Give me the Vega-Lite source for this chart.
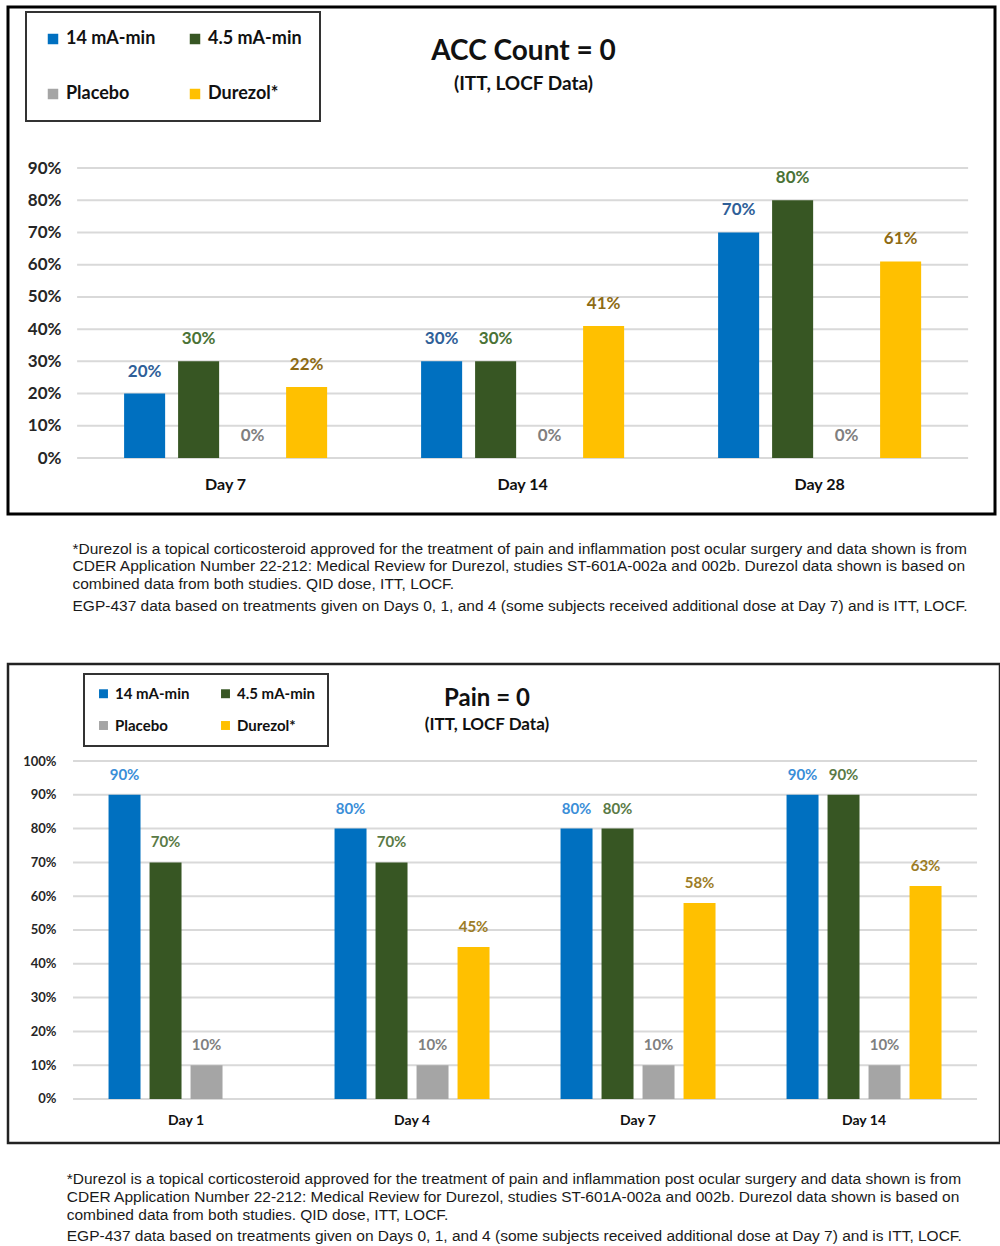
{
  "$schema": "https://vega.github.io/schema/vega-lite/v6.json",
  "background": "white",
  "padding": {"left": 6, "top": 5, "right": 0, "bottom": 0},
  "config": {"font": "Lato", "legend": {"strokeWidth": 2}},
  "spacing": 47,
  "resolve": {"scale": {"xOffset": "independent", "color": "independent", "x": "independent", "y": "independent"}, "legend": {"color": "independent"}},
  "vconcat": [
    {
      "title": {
        "text": [
          "*Durezol is a topical corticosteroid approved for the treatment of pain and inflammation post ocular surgery and data shown is from",
          "CDER Application Number 22-212: Medical Review for Durezol, studies ST-601A-002a and 002b.  Durezol data shown is based on",
          "combined data from both studies. QID dose, ITT, LOCF."
        ],
        "subtitle": "EGP-437 data based on treatments given on Days 0, 1, and 4 (some subjects received additional dose at Day 7) and is ITT, LOCF.",
        "orient": "bottom", "anchor": "start", "dx": 66, "offset": 26,
        "font": "Liberation Sans", "fontSize": 15.5, "fontWeight": "normal", "color": "#1a1a1a", "lineHeight": 17.5,
        "subtitleFont": "Liberation Sans", "subtitleFontSize": 15.5, "subtitleColor": "#1a1a1a", "subtitlePadding": 7
      },
      "resolve": {"scale": {"xOffset": "independent", "color": "independent"}, "legend": {"color": "independent"}},
      "vconcat": [
        {
          "width": 987, "height": 507,
          "view": {"stroke": "#000", "strokeWidth": 3},
          "title": {
            "text": "ACC Count = 0", "subtitle": "(ITT, LOCF Data)",
            "frame": "group", "anchor": "middle", "dx": 22, "offset": -87,
            "font": "Lato", "fontSize": 28, "fontWeight": "bold", "color": "#111",
            "subtitleFont": "Lato", "subtitleFontSize": 19, "subtitleFontWeight": "bold", "subtitleColor": "#111", "subtitlePadding": 9
          },
          "resolve": {"scale": {"color": "independent"}},
          "layer": [
            {
              "data": {"values": [{"v": 0}, {"v": 0.1}, {"v": 0.2}, {"v": 0.3}, {"v": 0.4}, {"v": 0.5}, {"v": 0.6}, {"v": 0.7}, {"v": 0.8}, {"v": 0.9}]},
              "mark": {"type": "rule", "color": "#D9D9D9", "strokeWidth": 2},
              "encoding": {
                "y": {"field": "v", "type": "quantitative", "scale": {"domain": [-0.1738, 1.3998], "nice": false, "zero": false},
                  "axis": {"values": [0, 0.1, 0.2, 0.3, 0.4, 0.5, 0.6, 0.7, 0.8, 0.9], "format": ".0%", "orient": "left", "offset": -72, "grid": false, "domain": false, "ticks": false, "labelPadding": 19, "labelFontSize": 17, "labelFont": "Lato", "labelFontWeight": "bold", "labelColor": "#262626", "title": null}},
                "x": {"datum": "Day 7", "bandPosition": 0, "scale": {"domain": ["Day 7", "Day 14", "Day 28"], "paddingInner": 0, "paddingOuter": 0.1616, "align": 0.72},
                  "axis": {"orient": "bottom", "offset": -54, "domain": false, "ticks": false, "labelPadding": 16, "labelAngle": 0, "labelFontSize": 16, "labelFont": "Lato", "labelFontWeight": "bold", "labelColor": "#111", "title": null}},
                "x2": {"datum": "Day 28", "bandPosition": 1}
              }
            },
            {
              "data": {"name": "acc"},
              "mark": {"type": "bar"},
              "encoding": {
                "x": {"field": "day", "type": "nominal", "scale": {"domain": ["Day 7", "Day 14", "Day 28"], "paddingInner": 0, "paddingOuter": 0.1616, "align": 0.72},
                  "axis": {"orient": "bottom", "offset": -54, "domain": false, "ticks": false, "labelPadding": 16, "labelAngle": 0, "labelFontSize": 16, "labelFont": "Lato", "labelFontWeight": "bold", "labelColor": "#111", "title": null}},
                "xOffset": {"field": "group", "type": "nominal", "scale": {"domain": ["14 mA-min", "4.5 mA-min", "Placebo", "Durezol"], "paddingInner": 0.24, "paddingOuter": 0.87}},
                "y": {"field": "value", "type": "quantitative", "scale": {"domain": [-0.1738, 1.3998], "nice": false, "zero": false},
                  "axis": {"values": [0, 0.1, 0.2, 0.3, 0.4, 0.5, 0.6, 0.7, 0.8, 0.9], "format": ".0%", "orient": "left", "offset": -72, "grid": false, "domain": false, "ticks": false, "labelPadding": 19, "labelFontSize": 17, "labelFont": "Lato", "labelFontWeight": "bold", "labelColor": "#262626", "title": null}},
                "color": {"field": "group", "type": "nominal",
                  "scale": {"domain": ["14 mA-min", "4.5 mA-min", "Placebo", "Durezol"], "range": ["#0070C0", "#375623", "#A5A5A5", "#FFC000"]},
                  "legend": {"orient": "none", "legendX": 18, "legendY": 5, "direction": "horizontal", "columns": 2, "title": null,
                    "symbolType": "square", "symbolSize": 110, "symbolStrokeWidth": 0,
                    "labelFontSize": 18, "labelFont": "Lato", "labelFontWeight": "bold", "labelColor": "#111",
                    "padding": 18, "rowPadding": 37, "columnPadding": 30, "strokeColor": "#333", "fillColor": "white",
                    "labelExpr": "datum.label == 'Durezol' ? 'Durezol*' : datum.label"}
                }
              }
            },
            {
              "data": {"name": "acc"},
              "mark": {"type": "text", "baseline": "bottom", "dy": -13, "font": "Lato", "fontWeight": "bold", "fontSize": 17},
              "encoding": {
                "x": {"field": "day", "type": "nominal", "scale": {"domain": ["Day 7", "Day 14", "Day 28"], "paddingInner": 0, "paddingOuter": 0.1616, "align": 0.72},
                  "axis": {"orient": "bottom", "offset": -54, "domain": false, "ticks": false, "labelPadding": 16, "labelAngle": 0, "labelFontSize": 16, "labelFont": "Lato", "labelFontWeight": "bold", "labelColor": "#111", "title": null}},
                "xOffset": {"field": "group", "type": "nominal", "scale": {"domain": ["14 mA-min", "4.5 mA-min", "Placebo", "Durezol"], "paddingInner": 0.24, "paddingOuter": 0.87}},
                "y": {"field": "value", "type": "quantitative", "scale": {"domain": [-0.1738, 1.3998], "nice": false, "zero": false},
                  "axis": {"values": [0, 0.1, 0.2, 0.3, 0.4, 0.5, 0.6, 0.7, 0.8, 0.9], "format": ".0%", "orient": "left", "offset": -72, "grid": false, "domain": false, "ticks": false, "labelPadding": 19, "labelFontSize": 17, "labelFont": "Lato", "labelFontWeight": "bold", "labelColor": "#262626", "title": null}},
                "text": {"field": "value", "type": "quantitative", "format": ".0%"},
                "color": {"field": "group", "type": "nominal", "legend": null,
                  "scale": {"domain": ["14 mA-min", "4.5 mA-min", "Placebo", "Durezol"], "range": ["#2F5F98", "#4A7336", "#7F7F7F", "#8E6B14"]}}
              }
            }
          ]
        }
      ]
    },
    {
      "title": {
        "text": [
          "*Durezol is a topical corticosteroid approved for the treatment of pain and inflammation post ocular surgery and data shown is from",
          "CDER Application Number 22-212: Medical Review for Durezol, studies ST-601A-002a and 002b.  Durezol data shown is based on",
          "combined data from both studies. QID dose, ITT, LOCF."
        ],
        "subtitle": "EGP-437 data based on treatments given on Days 0, 1, and 4 (some subjects received additional dose at Day 7) and is ITT, LOCF.",
        "orient": "bottom", "anchor": "start", "dx": 60, "offset": 28,
        "font": "Liberation Sans", "fontSize": 15.5, "fontWeight": "normal", "color": "#1a1a1a", "lineHeight": 18,
        "subtitleFont": "Liberation Sans", "subtitleFontSize": 15.5, "subtitleColor": "#1a1a1a", "subtitlePadding": 5
      },
      "resolve": {"scale": {"xOffset": "independent", "color": "independent"}, "legend": {"color": "independent"}},
      "vconcat": [
        {
          "width": 992, "height": 479,
          "view": {"stroke": "#222", "strokeWidth": 2.5},
          "title": {
            "text": "Pain = 0", "subtitle": "(ITT, LOCF Data)",
            "frame": "group", "anchor": "middle", "dx": -17, "offset": -69,
            "font": "Lato", "fontSize": 24, "fontWeight": "bold", "color": "#111",
            "subtitleFont": "Lato", "subtitleFontSize": 17, "subtitleFontWeight": "bold", "subtitleColor": "#111", "subtitlePadding": 6
          },
          "resolve": {"scale": {"color": "independent"}},
          "layer": [
            {
              "data": {"values": [{"v": 0}, {"v": 0.1}, {"v": 0.2}, {"v": 0.3}, {"v": 0.4}, {"v": 0.5}, {"v": 0.6}, {"v": 0.7}, {"v": 0.8}, {"v": 0.9}, {"v": 1.0}]},
              "mark": {"type": "rule", "color": "#D9D9D9", "strokeWidth": 2},
              "encoding": {
                "y": {"field": "v", "type": "quantitative", "scale": {"domain": [-0.1302, 1.287], "nice": false, "zero": false},
                  "axis": {"values": [0, 0.1, 0.2, 0.3, 0.4, 0.5, 0.6, 0.7, 0.8, 0.9, 1.0], "format": ".0%", "orient": "left", "offset": -64, "grid": false, "domain": false, "ticks": false, "labelPadding": 16, "labelFontSize": 13, "labelFont": "Lato", "labelFontWeight": "bold", "labelColor": "#262626", "title": null}},
                "x": {"datum": "Day 1", "bandPosition": 0, "scale": {"domain": ["Day 1", "Day 4", "Day 7", "Day 14"], "paddingInner": 0, "paddingOuter": 0.1947, "align": 0.739},
                  "axis": {"orient": "bottom", "offset": -44, "domain": false, "ticks": false, "labelPadding": 14, "labelAngle": 0, "labelFontSize": 14, "labelFont": "Lato", "labelFontWeight": "bold", "labelColor": "#111", "title": null}},
                "x2": {"datum": "Day 14", "bandPosition": 1}
              }
            },
            {
              "data": {"name": "pain"},
              "mark": {"type": "bar"},
              "encoding": {
                "x": {"field": "day", "type": "nominal", "scale": {"domain": ["Day 1", "Day 4", "Day 7", "Day 14"], "paddingInner": 0, "paddingOuter": 0.1947, "align": 0.739},
                  "axis": {"orient": "bottom", "offset": -44, "domain": false, "ticks": false, "labelPadding": 14, "labelAngle": 0, "labelFontSize": 14, "labelFont": "Lato", "labelFontWeight": "bold", "labelColor": "#111", "title": null}},
                "xOffset": {"field": "group", "type": "nominal", "scale": {"domain": ["14 mA-min", "4.5 mA-min", "Placebo", "Durezol"], "paddingInner": 0.22, "paddingOuter": 0.866}},
                "y": {"field": "value", "type": "quantitative", "scale": {"domain": [-0.1302, 1.287], "nice": false, "zero": false},
                  "axis": {"values": [0, 0.1, 0.2, 0.3, 0.4, 0.5, 0.6, 0.7, 0.8, 0.9, 1.0], "format": ".0%", "orient": "left", "offset": -64, "grid": false, "domain": false, "ticks": false, "labelPadding": 16, "labelFontSize": 13, "labelFont": "Lato", "labelFontWeight": "bold", "labelColor": "#262626", "title": null}},
                "color": {"field": "group", "type": "nominal",
                  "scale": {"domain": ["14 mA-min", "4.5 mA-min", "Placebo", "Durezol"], "range": ["#0070C0", "#375623", "#A5A5A5", "#FFC000"]},
                  "legend": {"orient": "none", "legendX": 76, "legendY": 10, "direction": "horizontal", "columns": 2, "title": null,
                    "symbolType": "square", "symbolSize": 80, "symbolStrokeWidth": 0,
                    "labelFontSize": 15, "labelFont": "Lato", "labelFontWeight": "bold", "labelColor": "#111",
                    "padding": 12, "rowPadding": 16, "columnPadding": 28, "strokeColor": "#333", "fillColor": "white",
                    "labelExpr": "datum.label == 'Durezol' ? 'Durezol*' : datum.label"}
                }
              }
            },
            {
              "data": {"name": "pain"},
              "mark": {"type": "text", "baseline": "bottom", "dy": -12, "font": "Lato", "fontWeight": "bold", "fontSize": 15},
              "encoding": {
                "x": {"field": "day", "type": "nominal", "scale": {"domain": ["Day 1", "Day 4", "Day 7", "Day 14"], "paddingInner": 0, "paddingOuter": 0.1947, "align": 0.739},
                  "axis": {"orient": "bottom", "offset": -44, "domain": false, "ticks": false, "labelPadding": 14, "labelAngle": 0, "labelFontSize": 14, "labelFont": "Lato", "labelFontWeight": "bold", "labelColor": "#111", "title": null}},
                "xOffset": {"field": "group", "type": "nominal", "scale": {"domain": ["14 mA-min", "4.5 mA-min", "Placebo", "Durezol"], "paddingInner": 0.22, "paddingOuter": 0.866}},
                "y": {"field": "value", "type": "quantitative", "scale": {"domain": [-0.1302, 1.287], "nice": false, "zero": false},
                  "axis": {"values": [0, 0.1, 0.2, 0.3, 0.4, 0.5, 0.6, 0.7, 0.8, 0.9, 1.0], "format": ".0%", "orient": "left", "offset": -64, "grid": false, "domain": false, "ticks": false, "labelPadding": 16, "labelFontSize": 13, "labelFont": "Lato", "labelFontWeight": "bold", "labelColor": "#262626", "title": null}},
                "text": {"field": "value", "type": "quantitative", "format": ".0%"},
                "color": {"field": "group", "type": "nominal", "legend": null,
                  "scale": {"domain": ["14 mA-min", "4.5 mA-min", "Placebo", "Durezol"], "range": ["#3A8ED8", "#5A7A45", "#7F7F7F", "#9C7C26"]}}
              }
            }
          ]
        }
      ]
    }
  ],
  "datasets": {
    "acc": [
      {"day": "Day 7", "group": "14 mA-min", "value": 0.20},
      {"day": "Day 7", "group": "4.5 mA-min", "value": 0.30},
      {"day": "Day 7", "group": "Placebo", "value": 0.0},
      {"day": "Day 7", "group": "Durezol", "value": 0.22},
      {"day": "Day 14", "group": "14 mA-min", "value": 0.30},
      {"day": "Day 14", "group": "4.5 mA-min", "value": 0.30},
      {"day": "Day 14", "group": "Placebo", "value": 0.0},
      {"day": "Day 14", "group": "Durezol", "value": 0.41},
      {"day": "Day 28", "group": "14 mA-min", "value": 0.70},
      {"day": "Day 28", "group": "4.5 mA-min", "value": 0.80},
      {"day": "Day 28", "group": "Placebo", "value": 0.0},
      {"day": "Day 28", "group": "Durezol", "value": 0.61}
    ],
    "pain": [
      {"day": "Day 1", "group": "14 mA-min", "value": 0.90},
      {"day": "Day 1", "group": "4.5 mA-min", "value": 0.70},
      {"day": "Day 1", "group": "Placebo", "value": 0.10},
      {"day": "Day 4", "group": "14 mA-min", "value": 0.80},
      {"day": "Day 4", "group": "4.5 mA-min", "value": 0.70},
      {"day": "Day 4", "group": "Placebo", "value": 0.10},
      {"day": "Day 4", "group": "Durezol", "value": 0.45},
      {"day": "Day 7", "group": "14 mA-min", "value": 0.80},
      {"day": "Day 7", "group": "4.5 mA-min", "value": 0.80},
      {"day": "Day 7", "group": "Placebo", "value": 0.10},
      {"day": "Day 7", "group": "Durezol", "value": 0.58},
      {"day": "Day 14", "group": "14 mA-min", "value": 0.90},
      {"day": "Day 14", "group": "4.5 mA-min", "value": 0.90},
      {"day": "Day 14", "group": "Placebo", "value": 0.10},
      {"day": "Day 14", "group": "Durezol", "value": 0.63}
    ]
  }
}
